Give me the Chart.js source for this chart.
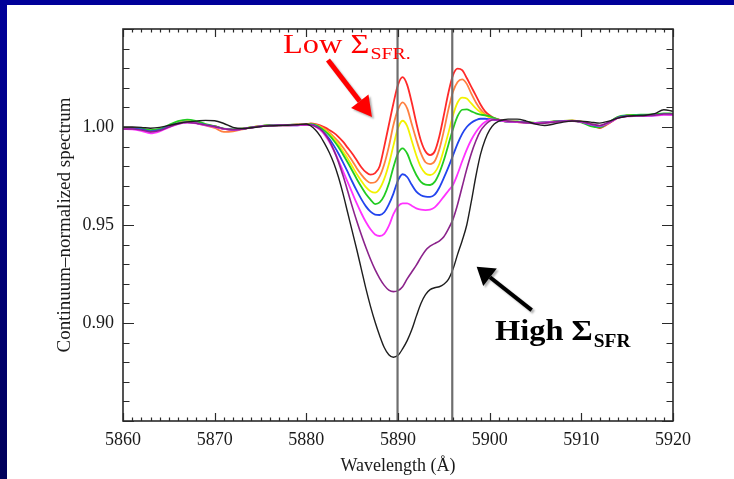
<!DOCTYPE html>
<html>
<head>
<meta charset="utf-8">
<script src="https://cdn.jsdelivr.net/npm/chart.js@4.4.1/dist/chart.umd.min.js"></script>
<style>
  html, body { margin: 0; padding: 0; }
  body { width: 734px; height: 479px; overflow: hidden; background: #000099; position: relative; }
  #strip { position: absolute; left: 0; top: 5px; width: 7px; height: 474px; background: linear-gradient(#000099, #00005a); }
  #panel { position: absolute; left: 7px; top: 5px; right: 0; bottom: 0; background: #fff; }
  #chart { position: absolute; left: 0; top: 0; width: 734px; height: 479px; }
</style>
</head>
<body>
<div id="strip"></div>
<div id="panel"></div>
<canvas id="chart" width="734" height="479"></canvas>
<script>
// wavelength grid (Å): coarse in the continuum, 0.5 Å across the Na D lines
const wavelength = [
  5860, 5861, 5862, 5863, 5864, 5865, 5866, 5867, 5868, 5869, 5870, 5871, 5872, 5873, 5874, 5875, 5876, 5877, 5878, 5879,
  5880, 5880.5, 5881, 5881.5, 5882, 5882.5, 5883, 5883.5, 5884, 5884.5, 5885, 5885.5, 5886, 5886.5, 5887, 5887.5,
  5888, 5888.5, 5889, 5889.5, 5890, 5890.5, 5891, 5891.5, 5892, 5892.5, 5893, 5893.5, 5894, 5894.5, 5895, 5895.5,
  5896, 5896.5, 5897, 5897.5, 5898, 5898.5, 5899, 5899.5, 5900, 5900.5, 5901, 5901.5, 5902,
  5903, 5904, 5905, 5906, 5907, 5908, 5909, 5910, 5911, 5912, 5913, 5914, 5915, 5916, 5917, 5918, 5919, 5920
];

// Na D rest wavelengths (vertical reference lines)
const naLines = [5889.95, 5895.92];

// continuum-normalised flux per bin, low SFR (red) -> high SFR (black)
const fluxRed = [
  0.9993, 0.9994, 0.9990, 0.9982, 0.9986, 1.0004, 1.0020, 1.0028, 1.0022, 1.0012, 1.0004, 0.9990, 0.9986, 0.9990, 0.9998, 1.0004, 1.0008, 1.0010, 1.0010, 1.0013,
  1.0015, 1.0018, 1.0015, 1.0008, 0.9998, 0.9985, 0.9970, 0.9950, 0.9925, 0.9895,
  0.9865, 0.9830, 0.9795, 0.9770, 0.9757, 0.9765, 0.9800, 0.9900, 1.0010, 1.0120,
  1.0215, 1.0254, 1.0215, 1.0125, 1.0020, 0.9930, 0.9875, 0.9857, 0.9875, 0.9950,
  1.0060, 1.0175, 1.0265, 1.0298, 1.0290, 1.0250, 1.0205, 1.0160, 1.0115, 1.0080,
  1.0060, 1.0045, 1.0038, 1.0032, 1.0028,
  1.0026, 1.0022, 1.0020, 1.0022, 1.0026, 1.0030, 1.0032, 1.0025, 1.0010, 0.9995, 1.0018, 1.0048, 1.0058, 1.0060, 1.0060, 1.0062, 1.0066, 1.0064
];
const fluxOrange = [
  0.9992, 0.9993, 0.9989, 0.9980, 0.9985, 1.0003, 1.0019, 1.0027, 1.0020, 1.0008, 0.9995, 0.9975, 0.9978, 0.9988, 0.9997, 1.0003, 1.0007, 1.0009, 1.0009, 1.0011,
  1.0012, 1.0015, 1.0012, 1.0003, 0.9990, 0.9972, 0.9950, 0.9925, 0.9895, 0.9862,
  0.9828, 0.9790, 0.9757, 0.9730, 0.9715, 0.9718, 0.9748, 0.9810, 0.9900, 1.0010,
  1.0090, 1.0126, 1.0095, 1.0015, 0.9935, 0.9865, 0.9820, 0.9811, 0.9825, 0.9885,
  0.9980, 1.0090, 1.0180, 1.0230, 1.0243, 1.0220, 1.0170, 1.0125, 1.0090, 1.0065,
  1.0050, 1.0042, 1.0036, 1.0030, 1.0027,
  1.0025, 1.0021, 1.0020, 1.0022, 1.0027, 1.0031, 1.0033, 1.0027, 1.0012, 0.9998, 1.0020, 1.0050, 1.0058, 1.0060, 1.0061, 1.0063, 1.0067, 1.0065
];
const fluxYellow = [
  0.9993, 0.9994, 0.9990, 0.9982, 0.9987, 1.0005, 1.0021, 1.0029, 1.0022, 1.0011, 1.0003, 0.9990, 0.9987, 0.9991, 0.9998, 1.0004, 1.0007, 1.0009, 1.0009, 1.0010,
  1.0010, 1.0013, 1.0010, 1.0000, 0.9985, 0.9965, 0.9940, 0.9910, 0.9875, 0.9840,
  0.9800, 0.9760, 0.9725, 0.9693, 0.9672, 0.9665, 0.9685, 0.9735, 0.9810, 0.9905,
  0.9995, 1.0032, 1.0005, 0.9930, 0.9855, 0.9795, 0.9763, 0.9755, 0.9768, 0.9810,
  0.9885, 0.9970, 1.0060, 1.0125, 1.0150, 1.0145, 1.0120, 1.0095, 1.0075, 1.0060,
  1.0048, 1.0040, 1.0035, 1.0030, 1.0027,
  1.0027, 1.0023, 1.0021, 1.0023, 1.0028, 1.0031, 1.0033, 1.0028, 1.0015, 1.0003, 1.0022, 1.0050, 1.0058, 1.0060, 1.0060, 1.0062, 1.0066, 1.0064
];
const fluxGreen = [
  0.9995, 0.9996, 0.9992, 0.9984, 0.9990, 1.0010, 1.0030, 1.0038, 1.0030, 1.0015, 1.0004, 0.9992, 0.9988, 0.9992, 0.9999, 1.0005, 1.0009, 1.0011, 1.0011, 1.0012,
  1.0012, 1.0015, 1.0010, 0.9998, 0.9980, 0.9958, 0.9930, 0.9898, 0.9860, 0.9820,
  0.9778, 0.9735, 0.9695, 0.9658, 0.9630, 0.9607, 0.9615, 0.9650, 0.9710, 0.9795,
  0.9865, 0.9891, 0.9865, 0.9805, 0.9755, 0.9720, 0.9706, 0.9704, 0.9720, 0.9765,
  0.9830, 0.9910, 0.9990, 1.0055, 1.0088, 1.0090, 1.0080, 1.0070, 1.0063, 1.0060,
  1.0055, 1.0045, 1.0038, 1.0030, 1.0027,
  1.0028, 1.0024, 1.0021, 1.0023, 1.0028, 1.0031, 1.0032, 1.0024, 1.0005, 0.9998, 1.0024, 1.0052, 1.0060, 1.0062, 1.0063, 1.0065, 1.0070, 1.0068
];
const fluxBlue = [
  0.9992, 0.9992, 0.9988, 0.9978, 0.9984, 1.0003, 1.0018, 1.0025, 1.0020, 1.0010, 1.0002, 0.9990, 0.9986, 0.9990, 0.9997, 1.0003, 1.0007, 1.0008, 1.0008, 1.0009,
  1.0010, 1.0012, 1.0005, 0.9990, 0.9968, 0.9940, 0.9905, 0.9865, 0.9820, 0.9772,
  0.9722, 0.9675, 0.9632, 0.9595, 0.9568, 0.9553, 0.9551, 0.9565, 0.9605, 0.9660,
  0.9728, 0.9759, 0.9745, 0.9705, 0.9670, 0.9652, 0.9645, 0.9644, 0.9655, 0.9690,
  0.9740, 0.9795, 0.9855, 0.9915, 0.9965, 1.0000, 1.0022, 1.0035, 1.0042, 1.0042,
  1.0040, 1.0037, 1.0033, 1.0030, 1.0027,
  1.0026, 1.0023, 1.0021, 1.0023, 1.0027, 1.0030, 1.0031, 1.0026, 1.0012, 1.0004, 1.0022, 1.0048, 1.0056, 1.0058, 1.0058, 1.0060, 1.0064, 1.0063
];
const fluxMagenta = [
  0.9990, 0.9988, 0.9980, 0.9968, 0.9978, 0.9998, 1.0015, 1.0022, 1.0018, 1.0008, 1.0000, 0.9990, 0.9985, 0.9990, 0.9997, 1.0003, 1.0006, 1.0008, 1.0008, 1.0009,
  1.0010, 1.0010, 1.0002, 0.9985, 0.9960, 0.9925, 0.9880, 0.9830, 0.9775, 0.9720,
  0.9665, 0.9610, 0.9560, 0.9515, 0.9478, 0.9452, 0.9444, 0.9455, 0.9495, 0.9555,
  0.9595, 0.9610, 0.9610, 0.9598, 0.9585, 0.9578, 0.9576, 0.9578, 0.9590, 0.9615,
  0.9645, 0.9675, 0.9705, 0.9760, 0.9825, 0.9885, 0.9935, 0.9975, 1.0005, 1.0025,
  1.0036, 1.0038, 1.0035, 1.0030, 1.0027,
  1.0025, 1.0022, 1.0020, 1.0022, 1.0026, 1.0029, 1.0030, 1.0026, 1.0014, 1.0006, 1.0022, 1.0046, 1.0054, 1.0056, 1.0057, 1.0058, 1.0062, 1.0061
];
const fluxPurple = [
  0.9990, 0.9990, 0.9985, 0.9975, 0.9982, 1.0000, 1.0016, 1.0023, 1.0019, 1.0010, 1.0002, 0.9991, 0.9986, 0.9990, 0.9997, 1.0003, 1.0007, 1.0009, 1.0010, 1.0011,
  1.0012, 1.0010, 1.0003, 0.9990, 0.9965, 0.9930, 0.9882, 0.9822, 0.9752, 0.9675,
  0.9595, 0.9520, 0.9450, 0.9385, 0.9325, 0.9272, 0.9228, 0.9192, 0.9168, 0.9160,
  0.9165, 0.9185, 0.9225, 0.9260, 0.9295, 0.9335, 0.9370, 0.9392, 0.9405, 0.9418,
  0.9440, 0.9480, 0.9530, 0.9605, 0.9695, 0.9785, 0.9865, 0.9930, 0.9980, 1.0010,
  1.0030, 1.0037, 1.0037, 1.0033, 1.0030,
  1.0027, 1.0022, 1.0018, 1.0020, 1.0025, 1.0029, 1.0031, 1.0027, 1.0016, 1.0008, 1.0024, 1.0047, 1.0055, 1.0057, 1.0058, 1.0060, 1.0066, 1.0066
];
const fluxBlack = [
  1.0000, 1.0000, 0.9998, 0.9994, 0.9998, 1.0008, 1.0018, 1.0026, 1.0030, 1.0034, 1.0032, 1.0018, 0.9998, 0.9992, 0.9996, 1.0002, 1.0006, 1.0008, 1.0009, 1.0012,
  1.0015, 1.0005, 0.9985, 0.9955, 0.9915, 0.9870, 0.9815, 0.9745, 0.9660, 0.9565,
  0.9470, 0.9375, 0.9275, 0.9175, 0.9085, 0.9005, 0.8935, 0.8875, 0.8838, 0.8825,
  0.8835, 0.8868, 0.8910, 0.8965, 0.9035, 0.9100, 0.9145, 0.9170, 0.9180, 0.9185,
  0.9198, 0.9222, 0.9275, 0.9350, 0.9420, 0.9500, 0.9620, 0.9750, 0.9860, 0.9935,
  0.9985, 1.0015, 1.0030, 1.0037, 1.0040,
  1.0040, 1.0030, 1.0015, 1.0008, 1.0015, 1.0025, 1.0030, 1.0030, 1.0025, 1.0020, 1.0030, 1.0045, 1.0055, 1.0058, 1.0060, 1.0068, 1.0088, 1.0080
];

const xRange = [5860, 5920];
const yRange = [0.85, 1.05];

const serif = '"Liberation Serif", "Times New Roman", serif';
const textColor = '#1a1a1a';

const series = [
  // drawn top-most first
  { flux: fluxBlack,   color: '#1e1e1e', width: 1.4 },
  { flux: fluxPurple,  color: '#8b238b', width: 1.6 },
  { flux: fluxMagenta, color: '#ff33ff', width: 1.8 },
  { flux: fluxBlue,    color: '#2244ee', width: 1.8 },
  { flux: fluxGreen,   color: '#22cc22', width: 1.8 },
  { flux: fluxYellow,  color: '#f2f200', width: 1.8 },
  { flux: fluxOrange,  color: '#ff8040', width: 1.8 },
  { flux: fluxRed,     color: '#ff2a2a', width: 1.8 }
];

series.forEach(s => {
  if (s.flux.length !== wavelength.length) throw new Error('length mismatch ' + s.color + ' ' + s.flux.length);
});

const datasets = [];
naLines.forEach(w => {
  datasets.push({
    data: [{ x: w, y: yRange[0] }, { x: w, y: yRange[1] }],
    borderColor: '#6e6e6e', borderWidth: 2.2, pointRadius: 0, tension: 0
  });
});
series.forEach(s => {
  datasets.push({
    data: wavelength.map((w, i) => ({ x: w, y: s.flux[i] })),
    borderColor: s.color, borderWidth: s.width, pointRadius: 0,
    cubicInterpolationMode: 'monotone'
  });
});

// box + inward ticks on all four sides
const frame = {
  id: 'frame',
  afterDatasetsDraw(chart) {
    const { ctx, chartArea: a, scales: { x, y } } = chart;
    ctx.save();
    ctx.strokeStyle = '#2a2a2a';
    ctx.lineWidth = 1.2;
    ctx.beginPath();
    for (let w = xRange[0]; w <= xRange[1]; w++) {
      const px = Math.round(x.getPixelForValue(w)) + 0.5;
      const len = w % 10 === 0 ? 8 : 3.5;
      ctx.moveTo(px, a.bottom); ctx.lineTo(px, a.bottom - len);
      ctx.moveTo(px, a.top); ctx.lineTo(px, a.top + len);
    }
    for (let i = 0; i <= 20; i++) {
      const py = Math.round(y.getPixelForValue(yRange[0] + i * 0.01)) + 0.5;
      const len = i % 5 === 0 ? 11 : 6.5;
      ctx.moveTo(a.left, py); ctx.lineTo(a.left + len, py);
      ctx.moveTo(a.right, py); ctx.lineTo(a.right - len, py);
    }
    ctx.stroke();
    ctx.lineWidth = 1.6;
    ctx.strokeRect(a.left, a.top, a.right - a.left, a.bottom - a.top);
    ctx.restore();
  }
};

function arrow(ctx, x0, y0, x1, y1, width, headLen, headHalf, color) {
  const ang = Math.atan2(y1 - y0, x1 - x0);
  const bx = x1 - headLen * Math.cos(ang), by = y1 - headLen * Math.sin(ang);
  ctx.strokeStyle = color;
  ctx.fillStyle = color;
  ctx.lineWidth = width;
  ctx.beginPath();
  ctx.moveTo(x0, y0);
  ctx.lineTo(bx, by);
  ctx.stroke();
  ctx.beginPath();
  ctx.moveTo(x1, y1);
  ctx.lineTo(bx + headHalf * Math.sin(ang), by - headHalf * Math.cos(ang));
  ctx.lineTo(bx - headHalf * Math.sin(ang), by + headHalf * Math.cos(ang));
  ctx.closePath();
  ctx.fill();
}

function subLabel(ctx, x, y, main, sub, size, subSize, subDrop, weight, color, sx) {
  ctx.save();
  ctx.translate(x, y);
  ctx.scale(sx, 1);
  ctx.fillStyle = color;
  ctx.textBaseline = 'alphabetic';
  ctx.font = `${weight} ${size}px ${serif}`;
  ctx.fillText(main, 0, 0);
  const w = ctx.measureText(main).width;
  ctx.font = `${weight} ${subSize}px ${serif}`;
  ctx.fillText(sub, w + 1, subDrop);
  ctx.restore();
}

// "Low / High Σ_SFR" callouts, placed in data coordinates
const callouts = {
  id: 'callouts',
  afterDraw(chart) {
    const { ctx, scales: { x, y } } = chart;
    const P = (w, f) => [x.getPixelForValue(w), y.getPixelForValue(f)];
    ctx.save();
    ctx.shadowColor = 'rgba(0,0,0,0.3)';
    ctx.shadowOffsetX = 2;
    ctx.shadowOffsetY = 2;
    ctx.shadowBlur = 2;
    arrow(ctx, ...P(5882.36, 1.0342), ...P(5887.16, 1.0051), 5, 20, 11, '#ff0000');
    arrow(ctx, ...P(5904.58, 0.9066), ...P(5898.58, 0.9287), 4, 17, 11, '#000000');
    ctx.restore();
    ctx.save();
    const [lx, ly] = P(5877.45, 1.0378);
    subLabel(ctx, lx, ly, 'Low Σ', 'SFR.', 27, 16.5, 6, 'normal', '#ff0000', 1.2);
    const [hx, hy] = P(5900.58, 0.8913);
    subLabel(ctx, hx, hy, 'High Σ', 'SFR', 30, 18, 7, 'bold', '#000000', 1.08);
    ctx.restore();
  }
};

new Chart(document.getElementById('chart'), {
  type: 'line',
  data: { datasets },
  options: {
    responsive: false,
    animation: false,
    devicePixelRatio: 1,
    layout: { padding: { left: 50, right: 61, top: 29, bottom: 1 } },
    plugins: { legend: { display: false }, tooltip: { enabled: false } },
    scales: {
      x: {
        type: 'linear',
        min: xRange[0], max: xRange[1],
        afterFit: s => { s.height = 57; },
        grid: { display: false, drawTicks: false },
        border: { display: false },
        ticks: {
          stepSize: 10, padding: 8, maxRotation: 0, color: textColor,
          font: { family: serif, size: 18 },
          callback: v => String(v)
        },
        title: {
          display: true, text: 'Wavelength (Å)', color: textColor,
          font: { family: serif, size: 18 }, padding: { top: 0, bottom: 1 }
        }
      },
      y: {
        min: yRange[0], max: yRange[1],
        afterFit: s => { s.width = 73; },
        grid: { display: false, drawTicks: false },
        border: { display: false },
        ticks: {
          stepSize: 0.05, padding: 9, color: textColor,
          font: { family: serif, size: 18 },
          callback: v => (Math.abs(v - yRange[0]) < 1e-6 || Math.abs(v - yRange[1]) < 1e-6) ? '' : v.toFixed(2)
        },
        title: {
          display: true, text: 'Continuum–normalized spectrum', color: textColor,
          font: { family: serif, size: 19 }, padding: { top: 4, bottom: 0 }
        }
      }
    }
  },
  plugins: [frame, callouts]
});
</script>
</body>
</html>
